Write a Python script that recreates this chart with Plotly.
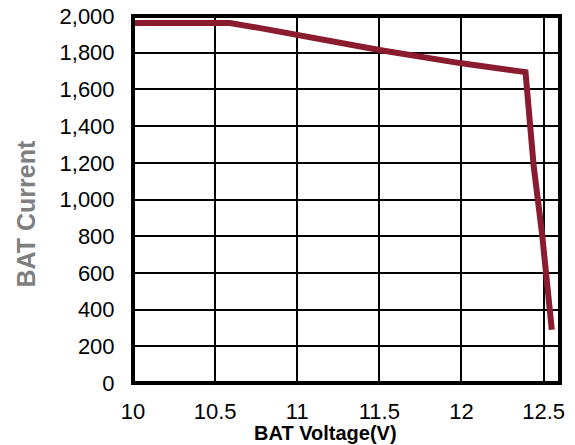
import plotly.graph_objects as go

voltage = [10.0, 10.59, 10.8, 11.0, 11.5, 12.0, 12.25, 12.39, 12.44, 12.49, 12.55]
current = [1962, 1962, 1930, 1896, 1815, 1742, 1712, 1694, 1180, 820, 290]

x_ticks = [10, 10.5, 11, 11.5, 12, 12.5]
x_tick_labels = ["10", "10.5", "11", "11.5", "12", "12.5"]
y_ticks = [0, 200, 400, 600, 800, 1000, 1200, 1400, 1600, 1800, 2000]

fig = go.Figure()
fig.add_trace(go.Scatter(
    x=voltage, y=current, mode="lines",
    line=dict(color="#8B1B2F", width=6),
    showlegend=False, hoverinfo="skip",
))

font = "Liberation Sans, Arial, sans-serif"
fig.update_layout(
    width=575, height=445,
    margin=dict(l=133, r=15, t=16, b=62, autoexpand=False),
    paper_bgcolor="white", plot_bgcolor="white",
    font=dict(family=font, size=22, color="black"),
)
fig.update_xaxes(
    range=[10, 12.6], tickvals=x_ticks, ticktext=x_tick_labels,
    showgrid=True, gridcolor="black", gridwidth=1.5,
    zeroline=False, showline=False, ticks="outside", ticklen=9, tickcolor="white",
    tickfont=dict(size=22, family=font), automargin=False,
)
fig.update_yaxes(
    range=[0, 2000], tickvals=y_ticks, tickformat=",",
    showgrid=True, gridcolor="black", gridwidth=1.5,
    zeroline=False, showline=False, ticks="outside", ticklen=13, tickcolor="white",
    tickfont=dict(size=22, family=font), automargin=False,
)
fig.add_shape(type="rect", xref="paper", yref="paper", x0=0, y0=0, x1=1, y1=1,
              line=dict(color="black", width=4))
fig.add_annotation(text="<b>BAT Current</b>", xref="paper", yref="paper",
                   x=0, y=0.5, xshift=-124, yshift=-15, textangle=-90, showarrow=False,
                   font=dict(size=25, family=font, color="#7F7F7F"))
fig.add_annotation(text="<b>BAT Voltage(V)</b>", xref="paper", yref="paper",
                   x=0.45, y=0, yshift=-50, yanchor="middle", showarrow=False,
                   font=dict(size=20, family=font, color="black"))

fig.write_html("out.html", config={"displayModeBar": False},
               post_script="document.body.style.margin='0';")
